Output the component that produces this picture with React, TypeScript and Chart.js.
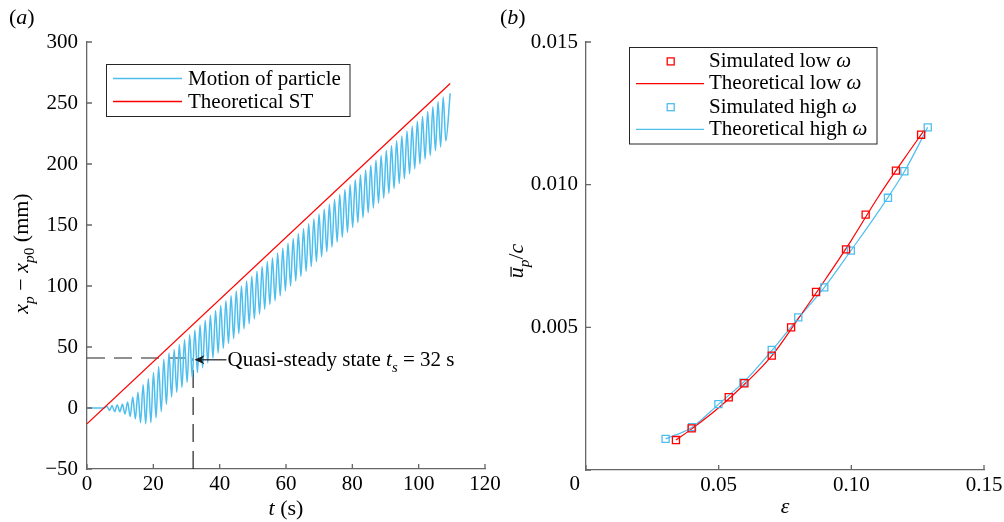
import React, { useEffect, useRef } from 'react';
import { Chart, registerables } from 'chart.js';
Chart.register(...registerables);

// ---------- Panel (a) data ----------
const T_TICKS = [0, 20, 40, 60, 80, 100, 120];
const XP_TICKS = [-50, 0, 50, 100, 150, 200, 250, 300];

const MOTION_T = [
  0, 4.5, 5.2, 6.0, 6.78, 7.56, 8.34, 9.12, 9.9, 10.68, 11.46, 12.24, 13.02, 13.8, 14.58, 15.36, 16.14,
  16.92, 17.7, 18.48, 19.26, 20.04, 20.82, 21.6, 22.38, 23.16, 23.94, 24.72, 25.5, 26.28, 27.06,
  27.84, 28.62, 29.4, 30.18, 30.96, 31.74, 32.52, 33.3, 34.08, 34.86, 35.64, 36.42, 37.2, 37.98,
  38.76, 39.54, 40.32, 41.1, 41.88, 42.66, 43.44, 44.22, 45.0, 45.78, 46.56, 47.34, 48.12, 48.9,
  49.68, 50.46, 51.24, 52.02, 52.8, 53.58, 54.36, 55.14, 55.92, 56.7, 57.48, 58.26, 59.04, 59.82,
  60.6, 61.38, 62.16, 62.94, 63.72, 64.5, 65.28, 66.06, 66.84, 67.62, 68.4, 69.18, 69.96, 70.74,
  71.52, 72.3, 73.08, 73.86, 74.64, 75.42, 76.2, 76.98, 77.76, 78.54, 79.32, 80.1, 80.88, 81.66,
  82.44, 83.22, 84.0, 84.78, 85.56, 86.34, 87.12, 87.9, 88.68, 89.46, 90.24, 91.02, 91.8, 92.58,
  93.36, 94.14, 94.92, 95.7, 96.48, 97.26, 98.04, 98.82, 99.6, 100.38, 101.16, 101.94, 102.72,
  103.5, 104.28, 105.06, 105.84, 106.62, 107.4, 108.18, 109.5,
];
const MOTION_X = [
  0, 0, 0, 1.5, -2, 2, -3, 2.5, -3, 3, -5, 5, -7, 9, -9, 13, -12,
  19, -13, 24, -12, 29, -8, 34, -3, 40, 3, 45, 9, 48, 13,
  52, 17, 56, 21, 60, 25, 64, 29, 68, 33, 72, 37, 76, 41,
  80, 45, 84, 49, 88, 53, 92, 57, 96, 61, 100, 65, 104, 69,
  108, 73, 112, 77, 116, 81, 120, 85, 123, 88, 127, 92, 131, 96,
  135, 100, 139, 104, 143, 108, 147, 112, 151, 116, 155, 120, 159, 124,
  163, 128, 167, 132, 171, 136, 175, 140, 179, 144, 183, 148, 187, 152,
  191, 156, 195, 160, 199, 164, 203, 168, 207, 172, 211, 176, 215, 180,
  219, 184, 223, 188, 227, 192, 231, 196, 235, 200, 239, 204, 243,
  207, 247, 211, 251, 214, 255, 219, 258,
];
const THEORY_ST_T = [0, 109.5];
const THEORY_ST_X = [-13, 266];
const QSS_T = 32;
const QSS_X = 41;
const ARROW_TIP = [32.4, 39.5];

// ---------- Panel (b) data ----------
const EPS_TICKS = [0, 0.05, 0.1, 0.15];
const U_TICKS = [0, 0.005, 0.01, 0.015];
const SIM_LOW_EPS = [0.0339, 0.0398, 0.0538, 0.0597, 0.07, 0.0773, 0.0867, 0.098, 0.1054, 0.1168, 0.1263];
const SIM_LOW_U = [0.00105, 0.00146, 0.00255, 0.00304, 0.00401, 0.005, 0.00624, 0.00773, 0.00895, 0.01049, 0.01175];
const THEO_LOW_EPS = [0.0339, 0.04, 0.05, 0.06, 0.07, 0.08, 0.09, 0.1, 0.11, 0.12, 0.1271];
const THEO_LOW_U = [0.00105, 0.00145, 0.00218, 0.00303, 0.004, 0.0053, 0.00665, 0.00805, 0.00955, 0.01092, 0.01186];
const SIM_HIGH_EPS = [0.03, 0.04, 0.0499, 0.0593, 0.07, 0.08, 0.0898, 0.0998, 0.1138, 0.12, 0.1288];
const SIM_HIGH_U = [0.00109, 0.0015, 0.00231, 0.00306, 0.00421, 0.00535, 0.0064, 0.00769, 0.00954, 0.01047, 0.01201];
const THEO_HIGH_EPS = [0.03, 0.04, 0.05, 0.06, 0.07, 0.08, 0.09, 0.1, 0.11, 0.12, 0.1288];
const THEO_HIGH_U = [0.00109, 0.0015, 0.00231, 0.00313, 0.00418, 0.00532, 0.00642, 0.00771, 0.00903, 0.01046, 0.01201];

// ---------- styles ----------
const FAMILY = '"Liberation Serif", "Times New Roman", serif';
const BLUE = '#4DBEEE';
const RED = '#FF0000';
const AXIS = '#666666';
const B_LEFT = 490;

type Run = { t: string; i?: boolean; s?: boolean; b?: boolean };

function setFont(ctx: CanvasRenderingContext2D, size: number, italic?: boolean) {
  ctx.font = `${italic ? 'italic ' : ''}${size}px ${FAMILY}`;
}
function runsWidth(ctx: CanvasRenderingContext2D, runs: Run[], size: number) {
  let w = 0;
  for (const r of runs) {
    setFont(ctx, r.s ? size * 0.7 : size, r.i);
    w += ctx.measureText(r.t).width;
  }
  return w;
}
function drawRuns(ctx: CanvasRenderingContext2D, runs: Run[], x: number, y: number, size: number, align: 'left' | 'center' = 'left') {
  let cx = align === 'center' ? x - runsWidth(ctx, runs, size) / 2 : x;
  ctx.textAlign = 'left';
  ctx.textBaseline = 'alphabetic';
  ctx.fillStyle = '#000';
  for (const r of runs) {
    const sz = r.s ? size * 0.7 : size;
    setFont(ctx, sz, r.i);
    const w = ctx.measureText(r.t).width;
    const dy = r.s ? size * 0.28 : 0;
    ctx.fillText(r.t, cx, y + dy);
    if (r.b) ctx.fillRect(cx + 1.5, y - size * 0.57, w - 1, 1.2);
    cx += w;
  }
}
function hline(ctx: CanvasRenderingContext2D, x0: number, x1: number, y: number, color: string, w: number) {
  ctx.save();
  ctx.setLineDash([]);
  ctx.strokeStyle = color;
  ctx.lineWidth = w;
  ctx.beginPath();
  ctx.moveTo(x0, y);
  ctx.lineTo(x1, y);
  ctx.stroke();
  ctx.restore();
}
function inwardTicks(chart: any, xt: number[], yt: number[]) {
  const { ctx, chartArea } = chart;
  const xs = chart.scales.x, ys = chart.scales.y;
  ctx.save();
  ctx.strokeStyle = AXIS;
  ctx.lineWidth = 1.3;
  ctx.beginPath();
  for (const v of xt) {
    const px = xs.getPixelForValue(v);
    ctx.moveTo(px, chartArea.bottom);
    ctx.lineTo(px, chartArea.bottom - 5);
  }
  for (const v of yt) {
    const py = ys.getPixelForValue(v);
    ctx.moveTo(chartArea.left, py);
    ctx.lineTo(chartArea.left + 5, py);
  }
  ctx.stroke();
  ctx.restore();
}

const plugA = {
  id: 'decorA',
  afterDraw(chart: any) {
    const ctx: CanvasRenderingContext2D = chart.ctx;
    const xs = chart.scales.x, ys = chart.scales.y;
    inwardTicks(chart, T_TICKS, XP_TICKS);
    ctx.save();
    // arrow + annotation
    const tipX = xs.getPixelForValue(ARROW_TIP[0]);
    const tipY = ys.getPixelForValue(ARROW_TIP[1]);
    hline(ctx, tipX + 6, tipX + 32, tipY, '#1a1a1a', 1.2);
    ctx.fillStyle = '#1a1a1a';
    ctx.beginPath();
    ctx.moveTo(tipX, tipY);
    ctx.lineTo(tipX + 10, tipY - 4.5);
    ctx.lineTo(tipX + 7, tipY);
    ctx.lineTo(tipX + 10, tipY + 4.5);
    ctx.closePath();
    ctx.fill();
    drawRuns(ctx, [{ t: 'Quasi-steady state ' }, { t: 't', i: true }, { t: 's', i: true, s: true }, { t: ' = 32 s' }], tipX + 33, tipY + 6.5, 21);
    // panel label
    drawRuns(ctx, [{ t: '(' }, { t: 'a', i: true }, { t: ')' }], 9, 24, 22);
    // x title
    const cxm = (chart.chartArea.left + chart.chartArea.right) / 2;
    drawRuns(ctx, [{ t: 't', i: true }, { t: ' (s)' }], cxm, 515, 22, 'center');
    // y title
    ctx.save();
    ctx.translate(28, (chart.chartArea.top + chart.chartArea.bottom) / 2 - 2);
    ctx.rotate(-Math.PI / 2);
    drawRuns(ctx, [
      { t: 'x', i: true }, { t: 'p', i: true, s: true }, { t: ' \u2212 ' },
      { t: 'x', i: true }, { t: 'p', i: true, s: true }, { t: '0', s: true }, { t: ' (mm)' },
    ], 0, 0, 22, 'center');
    ctx.restore();
    // legend
    ctx.setLineDash([]);
    ctx.strokeStyle = '#262626';
    ctx.lineWidth = 1;
    ctx.strokeRect(106.5, 64.5, 243.5, 52);
    hline(ctx, 113, 182, 78.5, BLUE, 1.5);
    hline(ctx, 113, 182, 101.5, RED, 1.3);
    drawRuns(ctx, [{ t: 'Motion of particle' }], 188, 85, 21);
    drawRuns(ctx, [{ t: 'Theoretical ST' }], 188, 108, 21);
    ctx.restore();
  },
};

const plugB = {
  id: 'decorB',
  afterDraw(chart: any) {
    const ctx: CanvasRenderingContext2D = chart.ctx;
    inwardTicks(chart, EPS_TICKS, U_TICKS);
    ctx.save();
    // origin label
    setFont(ctx, 21);
    ctx.fillStyle = '#000';
    ctx.textAlign = 'right';
    ctx.textBaseline = 'alphabetic';
    ctx.fillText('0', 580 - B_LEFT, 490);
    // panel label
    drawRuns(ctx, [{ t: '(' }, { t: 'b', i: true }, { t: ')' }], 500 - B_LEFT, 24, 22);
    // x title
    const cxm = (chart.chartArea.left + chart.chartArea.right) / 2;
    drawRuns(ctx, [{ t: '\u03b5', i: true }], cxm, 513, 22, 'center');
    // y title
    ctx.save();
    ctx.translate(523 - B_LEFT, 261);
    ctx.rotate(-Math.PI / 2);
    drawRuns(ctx, [{ t: 'u', i: true, b: true }, { t: 'p', i: true, s: true }, { t: '/' }, { t: 'c', i: true }], 0, 0, 22, 'center');
    ctx.restore();
    // legend
    const L = 629.5 - B_LEFT;
    ctx.setLineDash([]);
    ctx.strokeStyle = '#262626';
    ctx.lineWidth = 1;
    ctx.strokeRect(L, 47.5, 247.5, 96.5);
    const lx0 = 636 - B_LEFT, lx1 = 704 - B_LEFT, mx = 670.7 - B_LEFT, tx = 709 - B_LEFT;
    const rows = [
      { y: 66.7, c: RED, marker: true, label: 'Simulated low ' },
      { y: 89, c: RED, marker: false, label: 'Theoretical low ' },
      { y: 112.5, c: BLUE, marker: true, label: 'Simulated high ' },
      { y: 134.7, c: BLUE, marker: false, label: 'Theoretical high ' },
    ];
    for (const r of rows) {
      const cy = r.y - 5.3;
      if (r.marker) {
        ctx.strokeStyle = r.c;
        ctx.lineWidth = 1.3;
        ctx.strokeRect(mx - 3.5, cy - 3.5, 7, 7);
      } else {
        hline(ctx, lx0, lx1, cy, r.c, 1.3);
      }
      drawRuns(ctx, [{ t: r.label }, { t: '\u03c9', i: true }], tx, r.y, 21);
    }
    ctx.restore();
  },
};

const tickFont = { family: FAMILY, size: 21 };

function makeA(canvas: HTMLCanvasElement) {
  return new Chart(canvas, {
    type: 'line',
    data: {
      datasets: [
        {
          label: 'Theoretical ST',
          data: THEORY_ST_T.map((t, i) => ({ x: t, y: THEORY_ST_X[i] })),
          borderColor: RED, borderWidth: 1.2, pointRadius: 0,
        },
        {
          label: 'Motion of particle',
          data: MOTION_T.map((t, i) => ({ x: t, y: MOTION_X[i] })),
          borderColor: BLUE, borderWidth: 1.5, pointRadius: 0, cubicInterpolationMode: 'monotone',
        },
        {
          label: 'ts-h',
          data: [{ x: 0, y: QSS_X }, { x: QSS_T, y: QSS_X }],
          borderColor: '#222', borderWidth: 1.2, borderDash: [18, 9], pointRadius: 0,
        },
        {
          label: 'ts-v',
          data: [{ x: QSS_T, y: -50 }, { x: QSS_T, y: QSS_X }],
          borderColor: '#222', borderWidth: 1.2, borderDash: [18, 9], pointRadius: 0,
        },
      ],
    },
    options: {
      animation: false,
      responsive: false,
      maintainAspectRatio: false,
      layout: { padding: { top: 42, right: 25, left: 0, bottom: 0 } },
      plugins: { legend: { display: false }, tooltip: { enabled: false } },
      scales: {
        x: {
          type: 'linear', min: 0, max: 120,
          afterBuildTicks: (s: any) => { s.ticks = T_TICKS.map((v) => ({ value: v })); },
          afterFit: (s: any) => { s.height = 53; },
          grid: { display: false, drawTicks: false },
          border: { display: true, color: AXIS, width: 1.3 },
          ticks: { color: '#000', font: tickFont, padding: 3, maxRotation: 0, autoSkip: false },
        },
        y: {
          type: 'linear', min: -50, max: 300,
          afterBuildTicks: (s: any) => { s.ticks = XP_TICKS.map((v) => ({ value: v })); },
          afterFit: (s: any) => { s.width = 87; },
          grid: { display: false, drawTicks: false },
          border: { display: true, color: AXIS, width: 1.3 },
          ticks: {
            color: '#000', font: tickFont, padding: 9, autoSkip: false,
            callback: (v: any) => String(v).replace('-', '\u2212'),
          },
        },
      },
    },
    plugins: [plugA],
  } as any);
}

function makeB(canvas: HTMLCanvasElement) {
  const pts = (xs: number[], ys: number[]) => xs.map((x, i) => ({ x, y: ys[i] }));
  return new Chart(canvas, {
    type: 'line',
    data: {
      datasets: [
        {
          label: 'Simulated low ω', data: pts(SIM_LOW_EPS, SIM_LOW_U), showLine: false,
          pointStyle: 'rect', pointRadius: 5, pointBorderWidth: 1.3, pointBorderColor: RED,
          pointBackgroundColor: 'rgba(0,0,0,0)', borderColor: RED,
        },
        {
          label: 'Simulated high ω', data: pts(SIM_HIGH_EPS, SIM_HIGH_U), showLine: false,
          pointStyle: 'rect', pointRadius: 5, pointBorderWidth: 1.3, pointBorderColor: BLUE,
          pointBackgroundColor: 'rgba(0,0,0,0)', borderColor: BLUE,
        },
        {
          label: 'Theoretical low ω', data: pts(THEO_LOW_EPS, THEO_LOW_U),
          borderColor: RED, borderWidth: 1.2, pointRadius: 0, cubicInterpolationMode: 'monotone',
        },
        {
          label: 'Theoretical high ω', data: pts(THEO_HIGH_EPS, THEO_HIGH_U),
          borderColor: BLUE, borderWidth: 1.2, pointRadius: 0, cubicInterpolationMode: 'monotone',
        },
      ],
    },
    options: {
      animation: false,
      responsive: false,
      maintainAspectRatio: false,
      layout: { padding: { top: 42, right: 40, left: 0, bottom: 0 } },
      plugins: { legend: { display: false }, tooltip: { enabled: false } },
      scales: {
        x: {
          type: 'linear', min: 0, max: 0.15,
          afterBuildTicks: (s: any) => { s.ticks = EPS_TICKS.map((v) => ({ value: v })); },
          afterFit: (s: any) => { s.height = 52; },
          grid: { display: false, drawTicks: false },
          border: { display: true, color: AXIS, width: 1.3 },
          ticks: {
            color: '#000', font: tickFont, padding: 3, maxRotation: 0, autoSkip: false,
            callback: (v: any) => (v === 0 ? '' : Number(v).toFixed(2)),
          },
        },
        y: {
          type: 'linear', min: 0, max: 0.015,
          afterBuildTicks: (s: any) => { s.ticks = U_TICKS.map((v) => ({ value: v })); },
          afterFit: (s: any) => { s.width = 586 - B_LEFT; },
          grid: { display: false, drawTicks: false },
          border: { display: true, color: AXIS, width: 1.3 },
          ticks: {
            color: '#000', font: tickFont, padding: 8, autoSkip: false,
            callback: (v: any) => (v === 0 ? '' : Number(v).toFixed(3)),
          },
        },
      },
    },
    plugins: [plugB],
  } as any);
}

export default function App() {
  const refA = useRef<HTMLCanvasElement>(null);
  const refB = useRef<HTMLCanvasElement>(null);
  useEffect(() => {
    const a = makeA(refA.current!);
    const b = makeB(refB.current!);
    return () => {
      a.destroy();
      b.destroy();
    };
  }, []);
  return (
    <div style={{ position: 'fixed', left: 0, top: 0, width: 1004, height: 522, overflow: 'hidden', background: '#fff' }}>
      <canvas ref={refA} width={510} height={522} style={{ position: 'absolute', left: 0, top: 0, width: 510, height: 522 }} />
      <canvas ref={refB} width={534} height={522} style={{ position: 'absolute', left: B_LEFT, top: 0, width: 534, height: 522 }} />
    </div>
  );
}
